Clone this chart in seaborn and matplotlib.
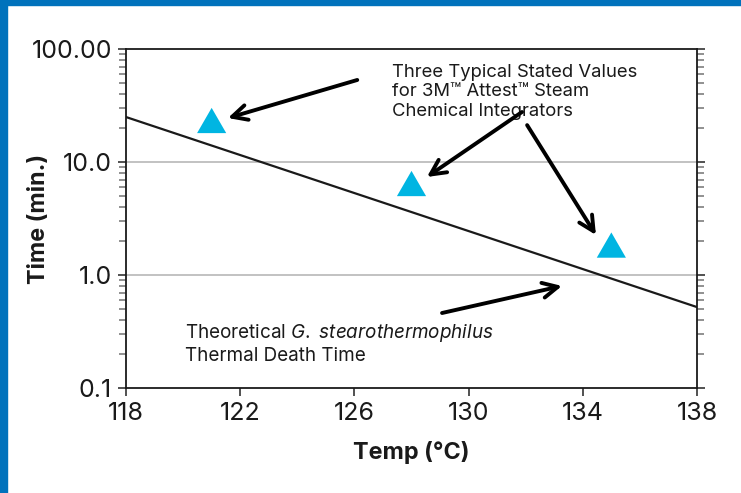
import matplotlib
matplotlib.use("Agg")
import matplotlib.pyplot as plt
import seaborn as sns
import pandas as pd
from matplotlib.patches import Rectangle
from matplotlib.ticker import LogLocator, NullFormatter

# ---- data ----
line_temp = [118, 138]
line_time = [25.0, 0.52]

point_temp = [121, 128, 135]
point_time = [23.3, 6.45, 1.84]

x_ticks = [118, 122, 126, 130, 134, 138]
y_ticks = [0.1, 1, 10, 100]
y_tick_labels = ["0.1", "1.0", "10.0", "100.00"]

label_integrators = "Three Typical Stated Values\nfor 3M\u2122 Attest\u2122 Steam\nChemical Integrators"
label_theory = "Theoretical $\\mathit{G.}$ $\\mathit{stearothermophilus}$\nThermal Death Time"

# arrows: (tail_x, tail_y, tip_x, tip_y) in data units
arrows = [
    (126.1, 53.2, 121.57, 24.5),
    (131.87, 27.7, 128.54, 7.37),
    (132.05, 21.2, 134.46, 2.26),
    (129.07, 0.461, 133.27, 0.80),
]

sns.set_theme(style="white")
plt.rcParams['font.family'] = ['Inter', 'DejaVu Sans']
plt.rcParams['mathtext.fontset'] = 'custom'
plt.rcParams['mathtext.it'] = 'Inter:italic'
plt.rcParams['mathtext.rm'] = 'Inter'

fig = plt.figure(figsize=(7.41, 4.93), dpi=100)
fig.patch.set_facecolor("white")
blue = "#0072BC"
fig.patches.append(Rectangle((0, 0), 7 / 741, 1, transform=fig.transFigure, color=blue, zorder=0))
fig.patches.append(Rectangle((0, 1 - 5 / 493), 1, 5 / 493, transform=fig.transFigure, color=blue, zorder=0))

ax = fig.add_axes([126 / 741, 105 / 493, 571 / 741, 339 / 493])
ax.set_yscale("log")
ax.set_xlim(118, 138)
ax.set_ylim(0.1, 100)

for yv in [1, 10]:
    ax.axhline(yv, color="#BDBDBD", lw=1.3, zorder=0)

df_line = pd.DataFrame({"temp": line_temp, "time": line_time})
sns.lineplot(data=df_line, x="temp", y="time", ax=ax, color="#1a1a1a", lw=1.6, zorder=3)

tri = [(-1, -0.866), (1, -0.866), (0, 0.866)]
df_pts = pd.DataFrame({"temp": point_temp, "time": point_time})
sns.scatterplot(data=df_pts, x="temp", y="time", ax=ax, marker=tri, s=21 ** 2,
                color="#00B5E2", edgecolor="none", linewidth=0, zorder=4)

for tx, ty, hx, hy in arrows:
    ax.annotate("", xy=(hx, hy), xytext=(tx, ty),
                arrowprops=dict(arrowstyle="->,head_length=0.9,head_width=0.45",
                                color="black", lw=2.8, shrinkA=0, shrinkB=0),
                zorder=5)

ax.text(127.32, 74, label_integrators, ha="left", va="top", fontsize=13.3,
        linespacing=1.2, color="#1a1a1a")
ax.text(120.07, 0.384, label_theory, ha="left", va="top", fontsize=13.6,
        linespacing=1.2, color="#1a1a1a")

ax.set_xticks(x_ticks)
ax.set_xticklabels([str(v) for v in x_ticks])
ax.set_yticks(y_ticks)
ax.set_yticklabels(y_tick_labels)
ax.yaxis.set_minor_locator(LogLocator(base=10, subs=range(2, 10)))
ax.yaxis.set_minor_formatter(NullFormatter())

ax.tick_params(axis="both", which="major", direction="out", length=6, width=1.2,
               color="#333333", labelsize=18, labelcolor="#1a1a1a", pad=4)
ax.tick_params(axis="y", which="both", left=True, right=True)
ax.tick_params(axis="y", which="minor", direction="out", length=5, width=1.3, color="#888888")
ax.tick_params(axis="x", which="both", bottom=True, top=False)

for s in ax.spines.values():
    s.set_visible(True)
    s.set_color("#1a1a1a")
    s.set_linewidth(1.3)

ax.set_xlabel("Temp (\u00b0C)", fontsize=16.8, fontweight="bold", color="#1a1a1a")
ax.set_ylabel("Time (min.)", fontsize=16.8, fontweight="bold", color="#1a1a1a")
ax.xaxis.set_label_coords(0.5, -0.156)
ax.yaxis.set_label_coords(-0.133, 0.5)

fig.savefig("out.png", dpi=100, facecolor="white")
